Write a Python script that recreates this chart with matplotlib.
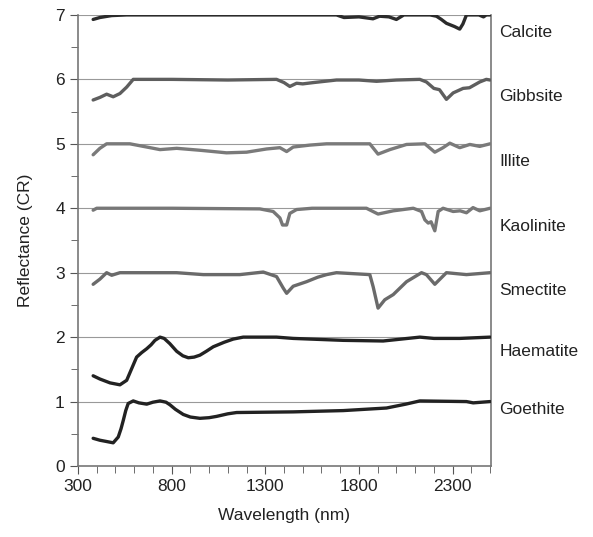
import matplotlib
matplotlib.use("Agg")
import matplotlib.pyplot as plt
import numpy as np
from matplotlib.ticker import MultipleLocator

plt.rcParams['font.family'] = ['Liberation Sans', 'DejaVu Sans']

# continuum removed spectra, already offset
calcite_x = [381, 417, 480, 560, 800, 1200, 1600, 1680, 1720, 1800, 1875, 1910, 1960, 2000, 2040,
             2100, 2180, 2214, 2240, 2267, 2310, 2338, 2355, 2374, 2440, 2465, 2480, 2500]
calcite_y = [6.93, 6.96, 6.99, 7.0, 7.0, 7.0, 7.0, 7.0, 6.96, 6.97, 6.94, 6.98, 6.97, 6.93, 7.0,
             7.0, 7.0, 6.98, 6.93, 6.87, 6.82, 6.78, 6.86, 7.0, 7.0, 6.97, 7.0, 7.0]

gibbsite_x = [381, 417, 453, 488, 524, 560, 595, 800, 1100, 1360, 1400, 1431, 1467, 1500, 1556,
              1680, 1800, 1894, 2000, 2125, 2160, 2200, 2230, 2267, 2303, 2356, 2390, 2445, 2480, 2500]
gibbsite_y = [5.68, 5.72, 5.77, 5.73, 5.78, 5.88, 6.0, 6.0, 5.99, 6.0, 5.95, 5.89, 5.94, 5.93, 5.95,
              5.99, 5.99, 5.97, 5.99, 6.0, 5.96, 5.86, 5.84, 5.69, 5.79, 5.86, 5.87, 5.96, 6.0, 5.99]

illite_x = [381, 417, 453, 577, 667, 738, 827, 951, 1093, 1200, 1307, 1378, 1414, 1449, 1538,
            1627, 1858, 1902, 1965, 2054, 2152, 2205, 2249, 2285, 2338, 2392, 2445, 2500]
illite_y = [4.83, 4.93, 5.0, 5.0, 4.95, 4.91, 4.93, 4.9, 4.86, 4.87, 4.92, 4.94, 4.88, 4.95, 4.98,
            5.0, 5.0, 4.84, 4.91, 4.99, 5.0, 4.87, 4.94, 5.01, 4.94, 4.99, 4.96, 5.0]

kaolinite_x = [381, 400, 800, 1271, 1342, 1378, 1392, 1414, 1431, 1467, 1550, 1840, 1902, 1983,
               2090, 2134, 2152, 2170, 2185, 2205, 2223, 2249, 2303, 2340, 2374, 2409, 2445, 2500]
kaolinite_y = [3.97, 4.0, 4.0, 3.99, 3.95, 3.85, 3.74, 3.74, 3.92, 3.98, 4.0, 4.0, 3.91, 3.96,
               4.0, 3.95, 3.82, 3.77, 3.79, 3.65, 3.95, 4.0, 3.95, 3.96, 3.93, 4.01, 3.96, 4.0]

smectite_x = [381, 417, 453, 480, 524, 827, 969, 1164, 1289, 1360, 1396, 1414, 1449, 1520, 1580,
              1627, 1680, 1858, 1876, 1902, 1938, 1983, 2054, 2134, 2160, 2205, 2267, 2374, 2500]
smectite_y = [2.82, 2.90, 3.0, 2.96, 3.0, 3.0, 2.97, 2.97, 3.01, 2.94, 2.76, 2.68, 2.79, 2.86, 2.93,
              2.97, 3.0, 2.97, 2.78, 2.45, 2.58, 2.66, 2.86, 3.0, 2.97, 2.82, 3.0, 2.97, 3.0]

haematite_x = [381, 417, 471, 524, 560, 585, 613, 640, 667, 690, 711, 738, 760, 790, 827, 860,
               889, 920, 951, 985, 1022, 1080, 1129, 1182, 1360, 1449, 1716, 1929, 2125, 2200,
               2338, 2500]
haematite_y = [1.40, 1.35, 1.29, 1.26, 1.33, 1.50, 1.69, 1.76, 1.82, 1.88, 1.95, 2.0, 1.98, 1.90,
               1.78, 1.71, 1.68, 1.69, 1.72, 1.78, 1.85, 1.92, 1.97, 2.0, 2.0, 1.98, 1.95, 1.94,
               2.0, 1.98, 1.98, 2.0]

goethite_x = [381, 417, 453, 488, 515, 530, 542, 555, 568, 595, 625, 667, 700, 738, 770, 791,
              820, 862, 900, 951, 1000, 1040, 1100, 1147, 1449, 1716, 1947, 2050, 2125, 2374,
              2410, 2500]
goethite_y = [0.43, 0.40, 0.38, 0.36, 0.45, 0.58, 0.71, 0.86, 0.97, 1.01, 0.98, 0.96, 0.99, 1.01,
              0.99, 0.95, 0.88, 0.80, 0.76, 0.74, 0.75, 0.77, 0.81, 0.83, 0.84, 0.86, 0.90, 0.96,
              1.01, 1.0, 0.98, 1.0]

names = ["Calcite", "Gibbsite", "Illite", "Kaolinite", "Smectite", "Haematite", "Goethite"]
label_y = [6.72, 5.74, 4.73, 3.71, 2.72, 1.78, 0.87]
series = [(calcite_x, calcite_y, "#2b2b2b"), (gibbsite_x, gibbsite_y, "#5e5e5e"),
          (illite_x, illite_y, "#7a7a7a"), (kaolinite_x, kaolinite_y, "#777777"),
          (smectite_x, smectite_y, "#6a6a6a"), (haematite_x, haematite_y, "#222222"),
          (goethite_x, goethite_y, "#222222")]

fig = plt.figure(figsize=(5.93, 5.37), dpi=100)
ax = fig.add_axes([0.1315, 0.1322, 0.6965, 0.8400])

for yy in range(1, 8):
    ax.axhline(yy, color="#999999", lw=0.8, zorder=1)

for (x, y, c) in series:
    ax.plot(x, y, color=c, lw=2.4, solid_capstyle="round", solid_joinstyle="round", zorder=3)

for name, ly in zip(names, label_y):
    ax.text(1.02, ly, name, transform=ax.get_yaxis_transform(), fontsize=12.5,
            va="center", ha="left", color="#222222")

ax.set_xlim(300, 2505)
ax.set_ylim(0, 7)
ax.xaxis.set_minor_locator(MultipleLocator(100))
ax.yaxis.set_major_locator(MultipleLocator(1))
ax.yaxis.set_minor_locator(MultipleLocator(0.5))
ax.set_xticks([300, 800, 1300, 1800, 2300])
ax.tick_params(axis="both", which="both", direction="out", color="#555555", labelsize=12.5,
               labelcolor="#222222")
ax.tick_params(which="major", length=6)
ax.tick_params(which="minor", length=5)
for s in ["left", "right", "bottom"]:
    ax.spines[s].set_color("#777777")
    ax.spines[s].set_linewidth(1.2)
ax.spines["top"].set_visible(False)

ax.set_xlabel("Wavelength (nm)", fontsize=12.5, color="#222222", labelpad=10)
ax.set_ylabel("Reflectance (CR)", fontsize=12.5, color="#222222", labelpad=16)

fig.savefig("out.png", dpi=100)
